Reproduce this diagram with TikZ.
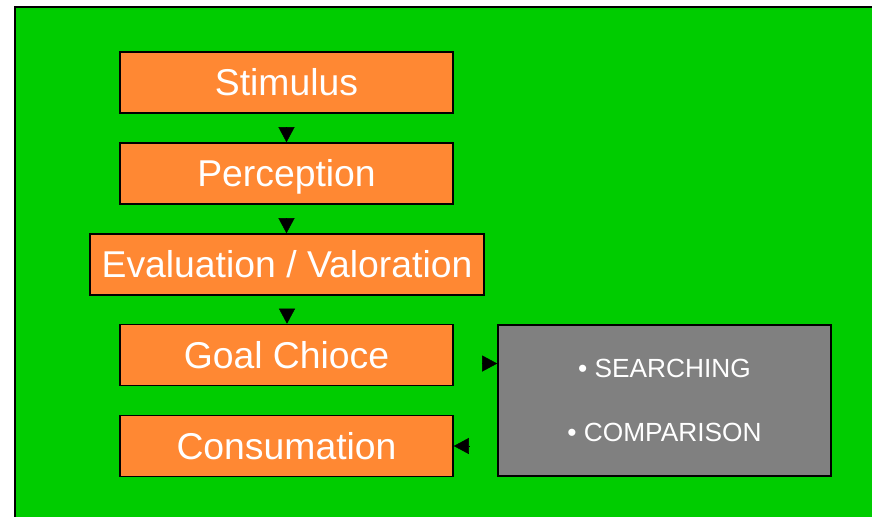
\documentclass[tikz,border=0pt]{standalone}
\usepackage{fontspec}
\setmainfont{Liberation Sans}
\usetikzlibrary{arrows.meta}

\definecolor{bggreen}{RGB}{0,204,0}
\definecolor{boxorange}{RGB}{255,136,51}
\definecolor{boxgray}{RGB}{128,128,128}

\begin{document}
\begin{tikzpicture}[x=0.75pt, y=-0.75pt,
    stepbox/.style={draw=black, line width=1.2pt, fill=boxorange, text=white,
      inner sep=0pt, minimum width=249.75pt, minimum height=45.75pt,
      font=\fontsize{28}{33}\selectfont, text height=20pt, text depth=0pt},
    listbox/.style={draw=black, line width=1.2pt, fill=boxgray, text=white,
      inner sep=0pt, minimum width=249.75pt, minimum height=113.25pt,
      align=center, font=\fontsize{19.7}{48}\selectfont},
    arr/.style={-{Triangle[length=11.25pt, width=12pt]}, line width=0.3pt}]

    % Frame
    \useasboundingbox (0,0) rectangle (872,517);
    \clip (0,0) rectangle (872,517);
    \draw[line width=1.5pt, fill=bggreen] (15,7) rectangle (900,540);

    % Steps
    \node[stepbox] (stim) at (286.5,82.5) {Stimulus};
    \node[stepbox] (perc) at (286.5,173.5) {Perception};
    \node[stepbox, minimum width=295.5pt] (eval) at (287,264.5) {Evaluation / Valoration};
    \node[stepbox] (goal) at (286.5,355) {Goal Chioce};
    \node[stepbox] (cons) at (286.5,446) {Consumation};

    % Search box
    \node[listbox] (search) at (664.5,400.5) {• SEARCHING\\• COMPARISON};

    % Arrows (heads only, shafts pulled back)
    \draw[arr, shorten <=11pt] (stim.south) -- (perc.north);
    \draw[arr, shorten <=11pt] (perc.south) -- (perc.south |- eval.north);
    \draw[arr, shorten <=11pt] (eval.south) -- (eval.south |- goal.north);
    \coordinate (gout) at ([yshift=-6.4pt]goal.east);
    \draw[arr, shorten <=22.2pt] (gout) -- (gout -| search.west);
    \draw[arr, shorten <=21.5pt] (cons.east -| search.west) -- (cons.east);
\end{tikzpicture}
\end{document}
